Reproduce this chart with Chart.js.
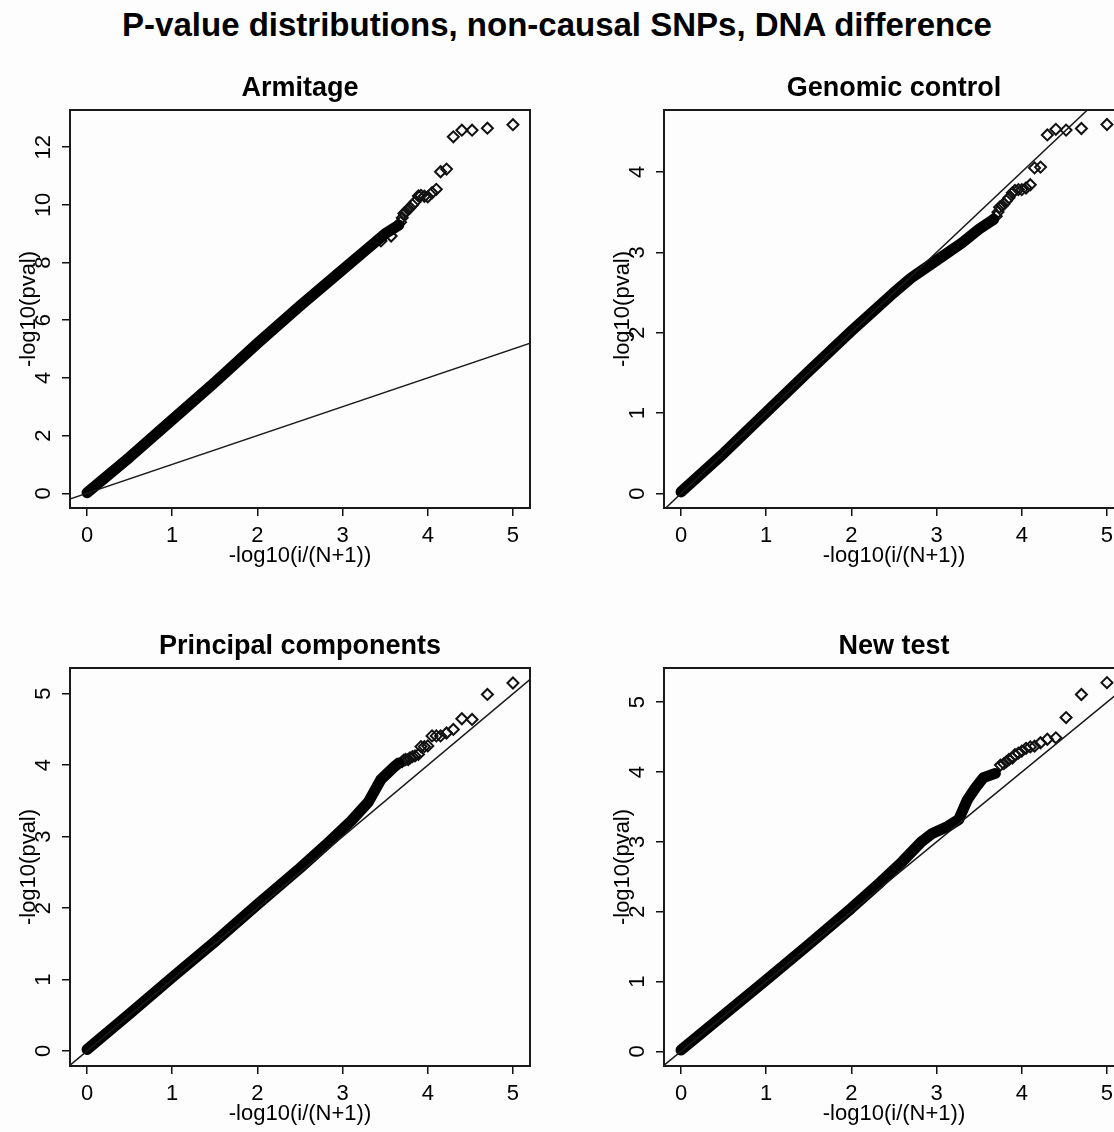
<!DOCTYPE html>
<html>
<head>
<meta charset="utf-8">
<script src="https://cdn.jsdelivr.net/npm/chart.js@4.4.1/dist/chart.umd.min.js"></script>
<style>
  body { margin: 0; background: #fdfdfe; overflow: hidden; width: 1114px; height: 1132px; position: relative;
         font-family: "Liberation Sans", Arial, sans-serif; }
  #title { position: absolute; left: 0; top: 6px; width: 1114px; text-align: center;
           font-weight: bold; font-size: 33px; line-height: 38px; color: #000; }
  canvas { position: absolute; }
</style>
</head>
<body>
<div id="title">P-value distributions, non-causal SNPs, DNA difference</div>
<canvas id="armitage" width="600" height="520" style="left:0;top:60px"></canvas>
<canvas id="genomic" width="600" height="520" style="left:594px;top:60px"></canvas>
<canvas id="principal" width="600" height="520" style="left:0;top:618px"></canvas>
<canvas id="newtest" width="600" height="520" style="left:594px;top:618px"></canvas>
<script>
const FONT = '"Liberation Sans", Arial, sans-serif';

// shared x axis: -log10(i/(N+1))
const xTicks = [0, 1, 2, 3, 4, 5];
const xLimits = [-0.2, 5.2];

// Armitage
const armBandX = [0, 0.5, 1.0, 1.5, 2.0, 2.5, 3.0, 3.3, 3.5, 3.66];
const armBandY = [0.02, 1.25, 2.55, 3.85, 5.2, 6.5, 7.75, 8.5, 9.0, 9.3];
const armTailX = [5.0, 4.70, 4.52, 4.40, 4.30, 4.22, 4.15, 4.10, 4.05, 4.00, 3.96, 3.92, 3.89, 3.85, 3.82, 3.79, 3.77, 3.74, 3.72, 3.70, 3.68, 3.57, 3.45];
const armTailY = [12.78, 12.66, 12.59, 12.59, 12.36, 11.24, 11.15, 10.54, 10.42, 10.28, 10.30, 10.33, 10.31, 10.10, 10.0, 9.90, 9.85, 9.75, 9.70, 9.55, 9.40, 8.92, 8.75];
const armYTicks = [0, 2, 4, 6, 8, 10, 12];
const armYLim = [-0.51, 13.29];

// Genomic control
const gcBandX = [0, 0.5, 1.0, 1.5, 2.0, 2.5, 2.7, 3.0, 3.3, 3.5, 3.67];
const gcBandY = [0.02, 0.5, 1.01, 1.52, 2.02, 2.5, 2.68, 2.9, 3.12, 3.29, 3.41];
const gcTailX = [5.0, 4.70, 4.52, 4.40, 4.30, 4.22, 4.15, 4.10, 4.05, 4.00, 3.96, 3.92, 3.89, 3.85, 3.82, 3.79, 3.77, 3.74, 3.72, 3.70];
const gcTailY = [4.59, 4.54, 4.52, 4.53, 4.46, 4.06, 4.05, 3.84, 3.80, 3.78, 3.78, 3.77, 3.74, 3.68, 3.64, 3.60, 3.58, 3.56, 3.50, 3.45];
const gcYTicks = [0, 1, 2, 3, 4];
const gcYLim = [-0.18, 4.77];

// Principal components
const pcBandX = [0, 0.5, 1.0, 1.5, 2.0, 2.5, 2.8, 3.1, 3.3, 3.45, 3.6, 3.66];
const pcBandY = [0.02, 0.52, 1.03, 1.53, 2.05, 2.56, 2.88, 3.22, 3.48, 3.8, 3.97, 4.03];
const pcTailX = [5.0, 4.70, 4.52, 4.40, 4.30, 4.22, 4.15, 4.10, 4.05, 4.00, 3.96, 3.92, 3.89, 3.85, 3.82, 3.79, 3.77, 3.74, 3.72, 3.70];
const pcTailY = [5.15, 4.99, 4.64, 4.65, 4.50, 4.45, 4.41, 4.41, 4.41, 4.27, 4.26, 4.26, 4.15, 4.13, 4.12, 4.10, 4.08, 4.08, 4.07, 4.05];
const pcYTicks = [0, 1, 2, 3, 4, 5];
const pcYLim = [-0.21, 5.36];

// New test
const ntBandX = [0, 0.5, 1.0, 1.5, 2.0, 2.34, 2.6, 2.82, 2.95, 3.13, 3.26, 3.36, 3.46, 3.55, 3.69];
const ntBandY = [0.02, 0.52, 1.02, 1.53, 2.05, 2.42, 2.72, 3.0, 3.12, 3.22, 3.32, 3.6, 3.78, 3.92, 3.98];
const ntTailX = [5.0, 4.70, 4.52, 4.40, 4.30, 4.22, 4.15, 4.10, 4.05, 4.00, 3.96, 3.92, 3.89, 3.85, 3.82, 3.79, 3.75];
const ntTailY = [5.28, 5.11, 4.78, 4.49, 4.47, 4.42, 4.37, 4.36, 4.34, 4.30, 4.27, 4.25, 4.20, 4.18, 4.15, 4.12, 4.10];
const ntYTicks = [0, 1, 2, 3, 4, 5];
const ntYLim = [-0.21, 5.49];

const zip = (xs, ys) => xs.map((x, i) => ({ x: x, y: ys[i] }));

// R style box around the plot region
const boxPlugin = {
  id: 'box',
  afterDraw(chart) {
    const { ctx, chartArea: a } = chart;
    ctx.save();
    ctx.strokeStyle = '#1a1a1a';
    ctx.lineWidth = 2;
    ctx.strokeRect(a.left, a.top, a.right - a.left, a.bottom - a.top);
    ctx.restore();
  }
};

const meas = document.createElement('canvas').getContext('2d');
meas.font = '22px ' + FONT;

function makePanel(id, title, bandX, bandY, tailX, tailY, yTicks, yLim) {
  const widest = Math.max(...yTicks.map(v => meas.measureText(String(v)).width));
  return new Chart(id, {
    type: 'scatter',
    data: {
      datasets: [
        { data: [{ x: -1, y: -1 }, { x: 20, y: 20 }], showLine: true, borderColor: '#1a1a1a',
          borderWidth: 1.5, pointRadius: 0, clip: 0 },
        { data: zip(bandX, bandY), showLine: true, borderColor: '#000', borderWidth: 11,
          borderCapStyle: 'round', borderJoinStyle: 'round', pointRadius: 0, clip: 0 },
        { data: zip(tailX, tailY), pointStyle: 'rectRot', pointRadius: 5.5, borderColor: '#111',
          borderWidth: 2, backgroundColor: 'rgba(0,0,0,0)', clip: 0 }
      ]
    },
    options: {
      responsive: false,
      animation: false,
      events: [],
      layout: { padding: { left: 0, right: 70, top: 0, bottom: 0 } },
      plugins: {
        legend: { display: false },
        tooltip: { enabled: false },
        title: { display: true, text: title, fullSize: false, color: '#000',
                 font: { family: FONT, size: 27, weight: 'bold', lineHeight: 1.2 },
                 padding: { top: 12.8, bottom: 4.8 } }
      },
      scales: {
        x: {
          type: 'linear', min: xLimits[0], max: xLimits[1],
          afterBuildTicks: s => { s.ticks = xTicks.map(v => ({ value: v })); },
          afterFit: s => { s.height = 72; },
          grid: { drawOnChartArea: false, drawTicks: true, tickLength: 8, color: '#111', lineWidth: 1.5 },
          border: { display: false },
          ticks: { color: '#000', font: { family: FONT, size: 22 }, padding: 6.8, maxRotation: 0,
                   autoSkip: false, callback: v => String(v) },
          title: { display: true, text: '-log10(i/(N+1))', color: '#000', font: { family: FONT, size: 22 },
                   padding: { top: 0, bottom: 10.8 } }
        },
        y: {
          type: 'linear', min: yLim[0], max: yLim[1],
          afterBuildTicks: s => { s.ticks = yTicks.map(v => ({ value: v })); },
          afterFit: s => { s.width = 70; },
          grid: { drawOnChartArea: false, drawTicks: true, tickLength: 8, color: '#111', lineWidth: 1.5 },
          border: { display: false },
          ticks: { color: '#000', font: { family: FONT, size: 22 }, padding: 18 - widest / 2,
                   minRotation: 90, maxRotation: 90, crossAlign: 'center', autoSkip: false,
                   callback: v => String(v) },
          title: { display: true, text: '-log10(pval)', color: '#000', font: { family: FONT, size: 22 },
                   padding: { top: 15.8, bottom: 0 } }
        }
      }
    },
    plugins: [boxPlugin]
  });
}

makePanel('armitage', 'Armitage', armBandX, armBandY, armTailX, armTailY, armYTicks, armYLim);
makePanel('genomic', 'Genomic control', gcBandX, gcBandY, gcTailX, gcTailY, gcYTicks, gcYLim);
makePanel('principal', 'Principal components', pcBandX, pcBandY, pcTailX, pcTailY, pcYTicks, pcYLim);
makePanel('newtest', 'New test', ntBandX, ntBandY, ntTailX, ntTailY, ntYTicks, ntYLim);
</script>
</body>
</html>
